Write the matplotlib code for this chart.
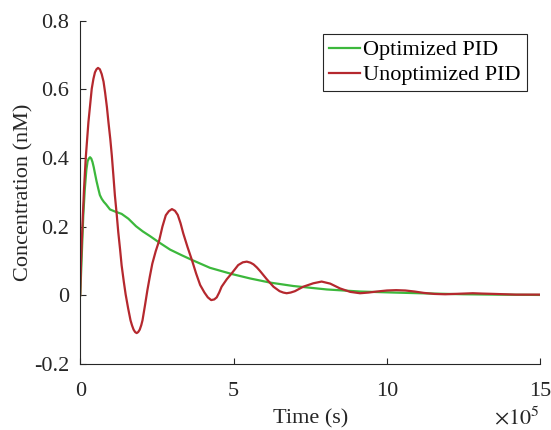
import numpy as np
import matplotlib.pyplot as plt

# Time in units of 1e5 s
t_opt = [0, 0.05, 0.10, 0.15, 0.20, 0.24, 0.28, 0.32, 0.36, 0.40, 0.44, 0.48, 0.53,
         0.59, 0.64, 0.70, 0.77, 0.84, 0.97, 1.13, 1.35, 1.57, 1.82, 2.04, 2.28,
         2.57, 2.93, 3.30, 3.64, 4.23, 4.94, 5.54, 6.19, 6.95, 8.04, 9.12, 10.21,
         11.5, 12.5, 13.5, 15.0]
c_opt = [0, 0.116, 0.233, 0.310, 0.365, 0.390, 0.398, 0.402, 0.398, 0.388, 0.373, 0.355, 0.333,
         0.310, 0.292, 0.281, 0.272, 0.265, 0.250, 0.244, 0.237, 0.223, 0.201, 0.186, 0.172,
         0.154, 0.133, 0.117, 0.103, 0.080, 0.062, 0.049, 0.037, 0.027, 0.017, 0.011, 0.008,
         0.005, 0.003, 0.002, 0.001]

t_unopt = [0, 0.026, 0.07, 0.124, 0.18, 0.267, 0.375, 0.43, 0.48, 0.53, 0.58, 0.64,
           0.70, 0.76, 0.81, 0.87, 0.92, 0.98, 1.03, 1.08, 1.13, 1.19, 1.24, 1.30,
           1.35, 1.42, 1.48, 1.56, 1.64, 1.69, 1.74, 1.79, 1.84, 1.89, 1.94, 1.99,
           2.03, 2.11, 2.19, 2.27, 2.35, 2.46, 2.57, 2.68, 2.79, 2.89, 2.99, 3.09,
           3.18, 3.27, 3.36, 3.50, 3.64, 3.78, 3.91, 4.05, 4.16, 4.27, 4.37, 4.45,
           4.53, 4.61, 4.78, 4.94, 5.15, 5.30, 5.43, 5.55, 5.65, 5.76, 5.86, 6.08,
           6.30, 6.50, 6.62, 6.73, 6.86, 7.00, 7.27, 7.60, 7.87, 8.15, 8.47, 8.80,
           9.12, 9.40, 9.67, 10.0, 10.3, 10.6, 10.9, 11.2, 11.55, 11.9, 12.2, 12.5,
           12.8, 13.1, 13.5, 14.2, 15.0]
c_unopt = [0, 0.097, 0.199, 0.310, 0.400, 0.504, 0.601, 0.630, 0.649, 0.658, 0.662, 0.658,
           0.644, 0.622, 0.591, 0.548, 0.504, 0.455, 0.407, 0.350, 0.291, 0.235, 0.184, 0.133,
           0.087, 0.040, 0.003, -0.037, -0.073, -0.088, -0.100, -0.107, -0.110, -0.107, -0.100, -0.087,
           -0.073, -0.030, 0.015, 0.055, 0.092, 0.128, 0.158, 0.200, 0.233, 0.245, 0.251, 0.246,
           0.234, 0.210, 0.180, 0.140, 0.103, 0.063, 0.030, 0.008, -0.006, -0.014, -0.012, -0.006,
           0.008, 0.025, 0.047, 0.064, 0.088, 0.096, 0.098, 0.095, 0.090, 0.081, 0.071, 0.047,
           0.025, 0.012, 0.008, 0.006, 0.008, 0.012, 0.025, 0.035, 0.040, 0.034, 0.020, 0.010,
           0.006, 0.008, 0.011, 0.014, 0.015, 0.014, 0.011, 0.007, 0.004, 0.003, 0.004, 0.005,
           0.006, 0.005, 0.004, 0.002, 0.002]

x_ticks = [0, 5, 10, 15]
y_ticks = [-0.2, 0, 0.2, 0.4, 0.6, 0.8]
y_ticklabels = ['-0.2', '0', '0.2', '0.4', '0.6', '0.8']

plt.rcParams['font.family'] = 'Liberation Serif'
plt.rcParams['mathtext.fontset'] = 'stix'
plt.rcParams['font.size'] = 16

dark = '#262626'

fig = plt.figure(figsize=(5.51, 4.30), dpi=100)
ax = fig.add_axes([0.1456, 0.1535, 0.835, 0.7988])

ax.plot(t_opt, c_opt, color='#3cb83c', lw=1.6, label='Optimized PID')
ax.plot(t_unopt, c_unopt, color='#b5282e', lw=1.6, label='Unoptimized PID')

ax.set_xlim(0, 15)
ax.set_ylim(-0.2, 0.8)
ax.set_xticks(x_ticks)
ax.set_xticklabels([str(v) for v in x_ticks])
ax.set_yticks(y_ticks)
ax.set_yticklabels(y_ticklabels)

for s in ['top', 'right']:
    ax.spines[s].set_visible(False)
for s in ['left', 'bottom']:
    ax.spines[s].set_color(dark)
    ax.spines[s].set_linewidth(0.8)
ax.tick_params(direction='in', length=4, width=0.8, color=dark, labelcolor=dark)
ax.tick_params(axis='x', pad=13)
ax.tick_params(axis='y', pad=8)

ax.set_xlabel('Time (s)', color=dark, labelpad=6)
ax.set_ylabel('Concentration (nM)', color=dark, labelpad=0)

# offset multiplier for the time axis
fig.text(540 / 551, 1 - 424 / 430, r'$\times 10^5$', ha='right', va='baseline',
         color=dark, fontsize=16)

leg = ax.legend(loc='upper right', bbox_to_anchor=(0.97, 0.96), fancybox=False,
                framealpha=1, edgecolor=dark, handlelength=1.4, handletextpad=0.15,
                borderpad=0.25, borderaxespad=0, labelspacing=0.2)
leg.get_frame().set_linewidth(0.8)

fig.savefig('out.png', dpi=100)
